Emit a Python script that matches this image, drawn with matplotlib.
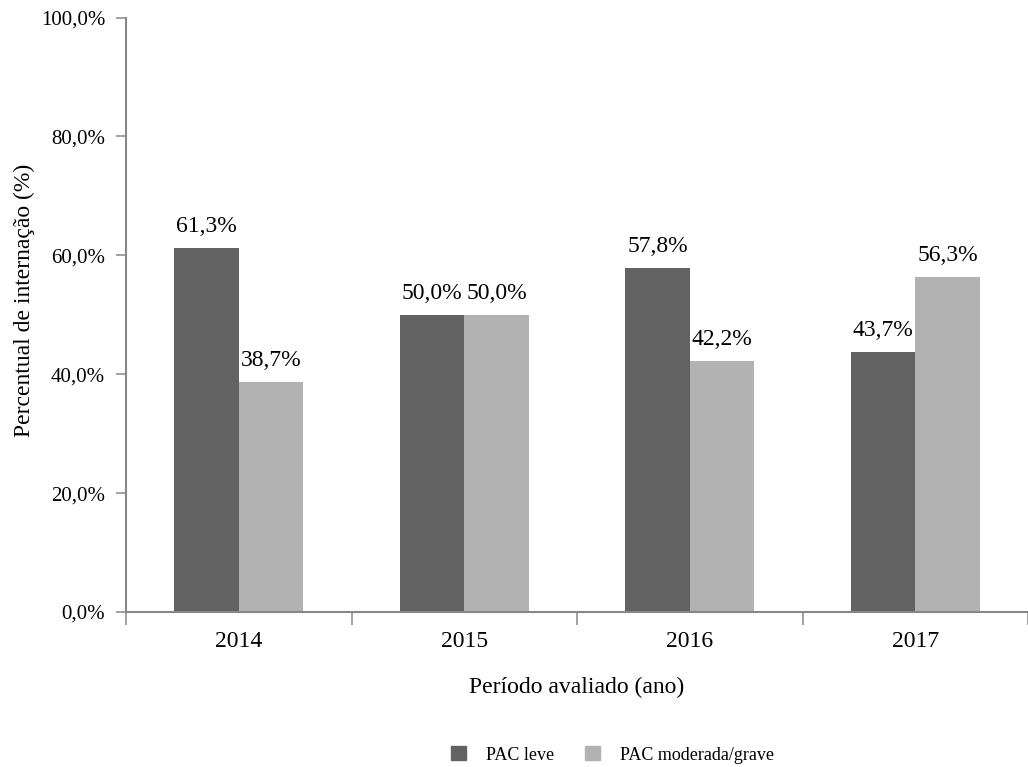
import matplotlib
matplotlib.use("Agg")
import matplotlib.pyplot as plt
from matplotlib.patches import Patch
import numpy as np

categories = ["2014", "2015", "2016", "2017"]
pac_leve = [61.3, 50.0, 57.8, 43.7]
pac_mod = [38.7, 50.0, 42.2, 56.3]
series_names = ["PAC leve", "PAC moderada/grave"]
yticks = [0, 20, 40, 60, 80, 100]

plt.rcParams['font.family'] = ['Liberation Serif', 'DejaVu Serif']

dark = "#626262"
light = "#b2b2b2"
axcol = "#878787"

fig = plt.figure(figsize=(10.28, 7.67), dpi=100)
ax = fig.add_axes([126/1028, (767-612)/767, (1028-126)/1028, (612-17.5)/767])

x = np.arange(len(categories))
w = 0.286
b1 = ax.bar(x - w/2, pac_leve, width=w, color=dark, linewidth=0)
b2 = ax.bar(x + w/2, pac_mod, width=w, color=light, linewidth=0)

def fmt(v):
    return f"{v:.1f}%".replace(".", ",")

for bars, vals in ((b1, pac_leve), (b2, pac_mod)):
    for r, v in zip(bars, vals):
        ax.annotate(fmt(v), (r.get_x() + r.get_width()/2, v),
                    xytext=(0, 11.5), textcoords="offset points",
                    ha="center", va="baseline", fontsize=17)

ax.set_xlim(-0.5, 3.5)
ax.set_ylim(0, 100)
ax.set_yticks(yticks)
ax.set_yticklabels([fmt(v) for v in yticks], fontsize=15)
ax.tick_params(axis='y', direction='out', length=7, width=1.1, color=axcol, pad=8)

ax.set_xticks(np.arange(-0.5, 4.0, 1.0))
ax.set_xticklabels([])
ax.tick_params(axis='x', which='major', direction='out', length=9, width=1.1, color=axcol)
ax.set_xticks(x, minor=True)
ax.set_xticklabels(categories, minor=True, fontsize=17)
ax.tick_params(axis='x', which='minor', length=0, pad=14)

for s in ("top", "right"):
    ax.spines[s].set_visible(False)
for s in ("left", "bottom"):
    ax.spines[s].set_color(axcol)
    ax.spines[s].set_linewidth(1.5)

ax.set_xlabel("Período avaliado (ano)", fontsize=17)
ax.xaxis.set_label_coords(0.5, -0.109)
ax.set_ylabel("Percentual de internação (%)", fontsize=17, va="center")
ax.yaxis.set_label_coords(-0.113, 0.525)

handles = [Patch(color=dark, label=series_names[0]), Patch(color=light, label=series_names[1])]
fig.legend(handles=handles, loc="center left", bbox_to_anchor=(451/1028, (767-755)/767),
           ncol=2, frameon=False, fontsize=13, handlelength=0.83, handleheight=0.83,
           handletextpad=1.1, columnspacing=1.7, borderpad=0, borderaxespad=0)

fig.savefig("out.png", dpi=100)
